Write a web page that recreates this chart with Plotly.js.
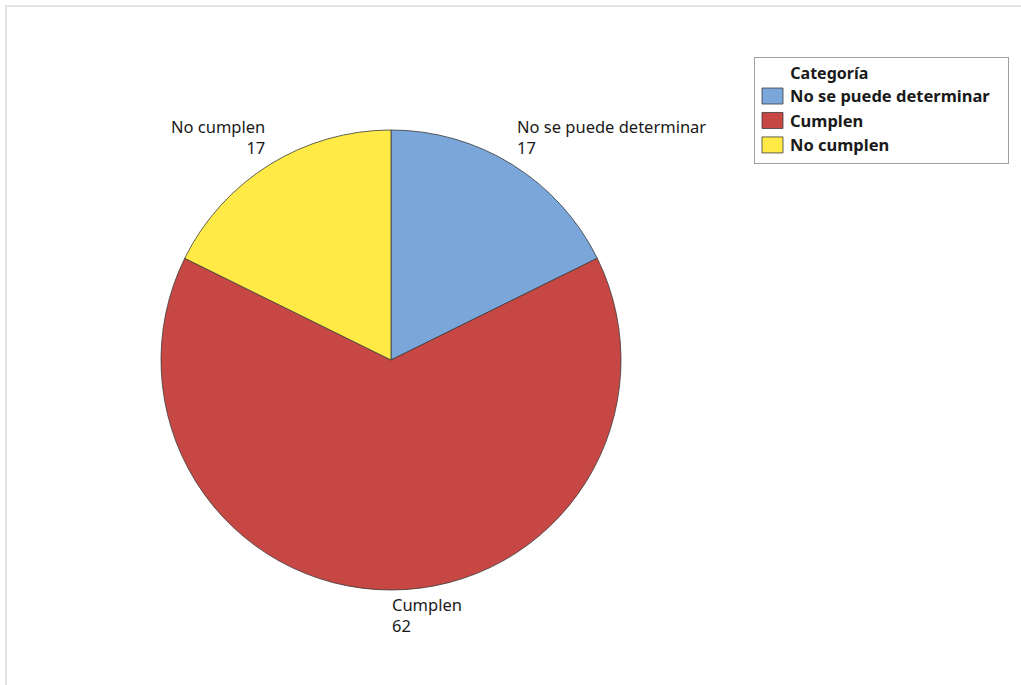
<!DOCTYPE html>
<html>
<head>
<meta charset="utf-8">
<script src="https://cdn.plot.ly/plotly-3.0.1.min.js"></script>
<style>
  html, body { margin: 0; padding: 0; background: #fff; }
  #wrap { position: relative; width: 1021px; height: 685px; }
  #chart { width: 1021px; height: 685px; }
  #frame { position: absolute; left: 5px; top: 5px; right: 0; bottom: 0;
           border-top: 2px solid #e3e3e3; border-left: 2px solid #e3e3e3;
           pointer-events: none; }
</style>
</head>
<body>
<div id="wrap"><div id="chart"></div><div id="frame"></div></div>
<script>
const categories = ["No se puede determinar", "Cumplen", "No cumplen"];
const counts = [17, 62, 17];
const colors = ["#7BA6D9", "#C64743", "#FFEA46"];

const W = 1021, H = 685;
const cx = 391, cy = 360, R = 230;
const dom = {
  x: [(cx - R) / W, (cx + R) / W],
  y: [1 - (cy + R) / H, 1 - (cy - R) / H]
};

const total = counts.reduce((a, b) => a + b, 0);
const annotations = [];
let acc = 0;
counts.forEach((v, i) => {
  const mid = (acc + v / 2) / total * 2 * Math.PI;
  acc += v;
  const s = Math.sin(mid), c = Math.cos(mid);
  const rr = c > 0 ? R + 6 : R + 2;
  const px = cx + rr * s, py = cy - rr * c;
  const xa = Math.abs(s) < 1e-6 ? "left" : (s > 0 ? "left" : "right");
  const ya = c > 0 ? "bottom" : "top";
  annotations.push({
    xref: "paper", yref: "paper",
    x: px / W, y: 1 - py / H,
    xanchor: xa, yanchor: ya,
    align: xa,
    showarrow: false,
    borderpad: 0,
    text: categories[i] + "<br>" + v,
    font: { family: "Noto Sans, sans-serif", size: 16.5, color: "#1a1a1a" }
  });
});

const data = [{
  type: "pie",
  labels: categories,
  values: counts,
  sort: false,
  direction: "clockwise",
  rotation: 0,
  marker: { colors: colors, line: { color: "#3c3c3c", width: 0.8 } },
  textinfo: "none",
  hoverinfo: "label+value",
  domain: dom
}];

const layout = {
  width: W, height: H,
  margin: { l: 0, r: 0, t: 0, b: 0 },
  paper_bgcolor: "#ffffff",
  showlegend: true,
  legend: {
    x: 754 / W, y: 1 - 57 / H, xanchor: "left", yanchor: "top",
    bordercolor: "#a0a0a0", borderwidth: 1, bgcolor: "#ffffff",
    font: { family: "Noto Sans, sans-serif", size: 16.5, color: "#1a1a1a", weight: "bold" },
    title: { text: "\u00a0\u00a0\u00a0\u00a0\u00a0\u00a0\u00a0\u00a0<b>Categoría</b>",
             font: { family: "Noto Sans, sans-serif", size: 16, color: "#1a1a1a" } },
    traceorder: "normal",
    itemwidth: 30
  },
  annotations: annotations
};

Plotly.newPlot("chart", data, layout, { displayModeBar: false, staticPlot: true }).then(gd => {
  gd.querySelectorAll(".legend .legendpoints path").forEach(p => {
    p.setAttribute("d", "M-13,-8H8V8H-13Z");
  });
  gd.querySelectorAll(".legend .legendtext").forEach(t => {
    const x = parseFloat(t.getAttribute("x") || "0");
    t.setAttribute("x", x - 5);
  });
  const bg = gd.querySelector(".legend rect.bg");
  if (bg) bg.setAttribute("width", 254);
});
</script>
</body>
</html>
